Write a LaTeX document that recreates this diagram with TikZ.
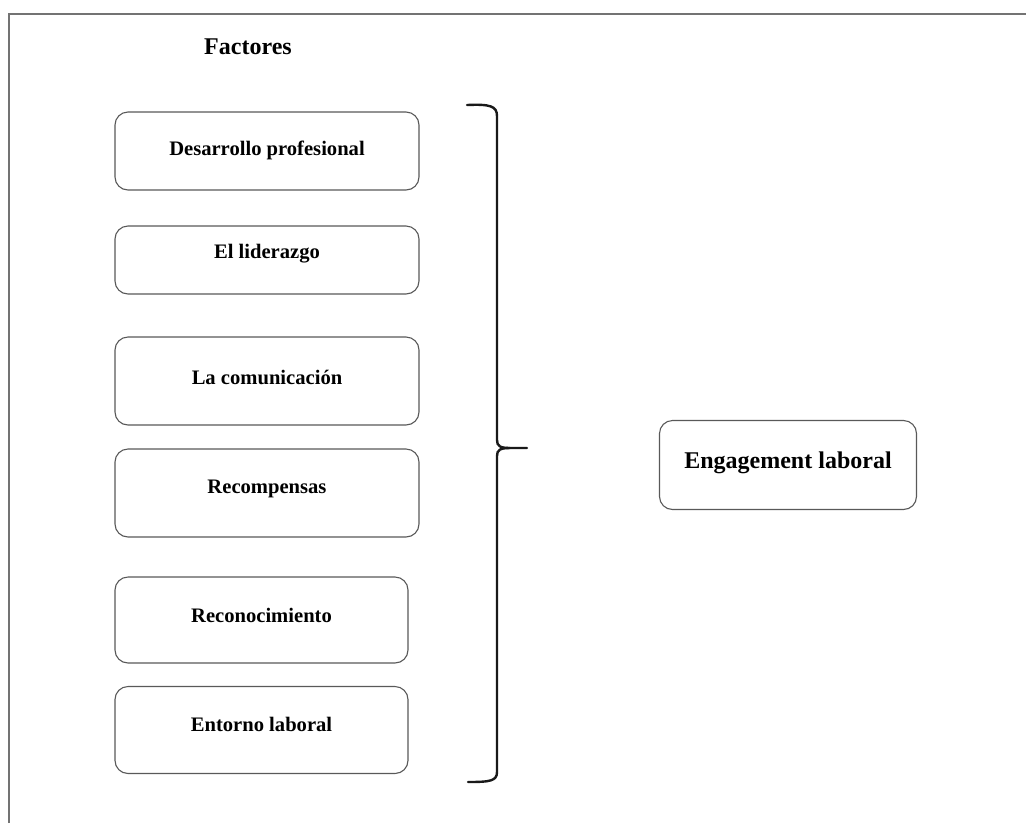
\documentclass[tikz,border=0pt]{standalone}
\usepackage{fontspec}
\setmainfont{Liberation Serif}
\begin{document}
\begin{tikzpicture}[x=1pt,y=-1pt,
  factorbox/.style={draw=black!65, line width=1.1pt, rounded corners=13pt,
    minimum width=304pt, inner sep=0pt, fill=white},
  boxtext/.style={font=\fontsize{20.6}{24}\selectfont\bfseries},
  bigtext/.style={font=\fontsize{24}{28}\selectfont\bfseries},
  bracket/.style={draw=black!90, line width=2.4pt, line cap=round}]
\useasboundingbox (0,0) rectangle (1026,823);
% open frame around the figure
\draw[black!55, line width=1.6pt] (9,823) -- (9,14) -- (1026,14);

\node[bigtext] (title) at (248,47) {Factores};

% factor boxes
\node[factorbox, minimum height=78pt,
  label={[boxtext, yshift=1pt]center:Desarrollo profesional}] (f1) at (267,151) {};
\node[factorbox, minimum height=68pt,
  label={[boxtext, yshift=6pt]center:El liderazgo}] (f2) at (267,260) {};
\node[factorbox, minimum height=88pt,
  label={[boxtext, yshift=4pt]center:La comunicación}] (f3) at (267,381) {};
\node[factorbox, minimum height=88pt,
  label={[boxtext, yshift=4pt]center:Recompensas}] (f4) at (267,493) {};
\node[factorbox, minimum width=293pt, minimum height=86pt,
  label={[boxtext, yshift=5pt]center:Reconocimiento}] (f5) at (261.5,620) {};
\node[factorbox, minimum width=293pt, minimum height=87pt,
  label={[boxtext, yshift=6pt]center:Entorno laboral}] (f6) at (261.5,730) {};

% outcome box
\node[factorbox, minimum width=257pt, minimum height=89pt,
  label={[bigtext, yshift=2pt]center:Engagement laboral}] (eng) at (788,465) {};

% curly bracket grouping the factors
\coordinate (btop) at (467,105);
\coordinate (bbot) at (468,782);
\coordinate (btip) at (527,448);
\draw[bracket] (btop) .. controls (490,104) and (497,106) .. (497,116)
  -- (497,440) .. controls (497,446) and (500,448) .. (510,448) -- (btip);
\draw[bracket] (510,448) .. controls (500,448) and (497,450) .. (497,456)
  -- (497,772) .. controls (497,781) and (490,782) .. (bbot);
\end{tikzpicture}
\end{document}
